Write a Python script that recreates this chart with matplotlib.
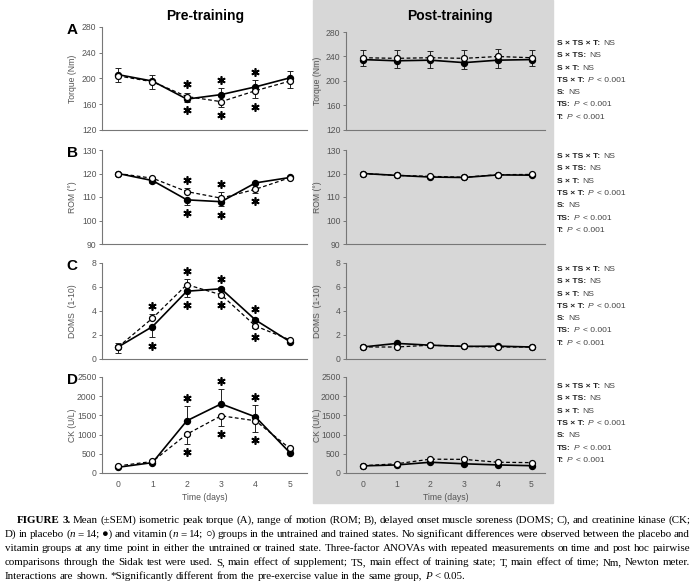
import re
import matplotlib
matplotlib.use('Agg')
import matplotlib.pyplot as plt
import matplotlib.transforms as mtransforms
from matplotlib import font_manager
from matplotlib.patches import Rectangle

W, H = 694, 587

days = [0, 1, 2, 3, 4, 5]

# sign of an error value = direction of the one-sided SEM bar (+ up, - down)
# Pre-training (untrained)
pre_torque_pla = [206, 196, 168, 175, 187, 201]
pre_torque_pla_err = [10, 10, -4, 10, 10, 11]
pre_torque_vit = [204, 195, 172, 164, 181, 196]
pre_torque_vit_err = [-10, -11, 6, -8, -12, -10]

pre_rom_pla = [120, 117, 108.8, 108, 116, 118.3]
pre_rom_pla_err = [0, -1, -2, -2, 0, 0]
pre_rom_vit = [120, 118, 112.3, 109.5, 113.3, 118.2]
pre_rom_vit_err = [0, 0, 1.5, 2.5, -1.5, 0]

pre_doms_pla = [1.0, 2.7, 5.65, 5.85, 3.25, 1.45]
pre_doms_pla_err = [-0.5, -0.9, -0.45, 0.15, 0.2, 0.1]
pre_doms_vit = [1.0, 3.4, 6.2, 5.35, 2.75, 1.6]
pre_doms_vit_err = [0.3, 0.35, 0.45, -0.15, -0.2, -0.1]

pre_ck_pla = [150, 270, 1360, 1800, 1460, 530]
pre_ck_pla_err = [30, 30, 380, 380, 310, 40]
pre_ck_vit = [185, 300, 1010, 1490, 1360, 640]
pre_ck_vit_err = [-30, -30, -250, -270, -290, -40]

# Post-training (trained)
post_torque_pla = [235, 233, 234, 230, 234, 235]
post_torque_pla_err = [-11, -12, -13, -11, -12, -11]
post_torque_vit = [238, 237, 238, 237, 240, 238]
post_torque_vit_err = [13, 13, 11, 14, 13, 13]

post_rom_pla = [120, 119.2, 118.5, 118.3, 119.4, 119.3]
post_rom_pla_err = [0, 0, 0, 0, 0, 0]
post_rom_vit = [120, 119.2, 118.8, 118.4, 119.5, 119.6]
post_rom_vit_err = [0, 0, 0, 0, 0, 0]

post_doms_pla = [1.0, 1.3, 1.15, 1.05, 1.07, 1.0]
post_doms_pla_err = [0, 0, 0, 0, 0, 0]
post_doms_vit = [1.0, 1.0, 1.15, 1.05, 1.0, 1.0]
post_doms_vit_err = [0, 0, 0, 0, 0, 0]

post_ck_pla = [185, 210, 280, 240, 210, 190]
post_ck_pla_err = [0, 0, 0, 0, 0, 0]
post_ck_vit = [190, 240, 360, 355, 280, 270]
post_ck_vit_err = [0, 0, 0, 0, 0, 0]

# days marked with * (pre-training only)
stars_above = [[2, 3, 4], [2, 3], [1, 2, 3, 4], [2, 3, 4]]
stars_below = [[2, 3, 4], [2, 3, 4], [1, 2, 3, 4], [2, 3, 4]]

panel_letters = ['A', 'B', 'C', 'D']
y_labels = ['Torque (Nm)', 'ROM (°)', 'DOMS  (1-10)', 'CK (U/L)']
y_limits = [(120, 280), (90, 130), (0, 8), (0, 2500)]
y_ticks = [[120, 160, 200, 240, 280], [90, 100, 110, 120, 130],
           [0, 2, 4, 6, 8], [0, 500, 1000, 1500, 2000, 2500]]

stat_keys = ['S × TS × T:', 'S × TS:', 'S × T:', 'TS × T:', 'S:', 'TS:', 'T:']
stat_vals = ['NS', 'NS', 'NS', 'P', 'NS', 'P', 'P']

caption_lines = [
    '<b>FIGURE 3.</b> Mean (±SEM) isometric peak torque (A), range of motion (ROM; B), '
    'delayed onset muscle soreness (DOMS; C), and creatinine kinase (CK;',
    'D) in placebo (<i>n</i> = 14; ●) and vitamin (<i>n</i> = 14; ○) groups in the untrained '
    'and trained states. No significant differences were observed between the placebo and',
    'vitamin groups at any time point in either the untrained or trained state. Three-factor '
    'ANOVAs with repeated measurements on time and post hoc pairwise',
    'comparisons through the Sidak test were used. S, main effect of supplement; TS, main '
    'effect of training state; T, main effect of time; Nm, Newton meter.',
    'Interactions are shown. *Significantly different from the pre-exercise value in the '
    'same group, <i>P</i> < 0.05.',
]

pre = [(pre_torque_pla, pre_torque_pla_err, pre_torque_vit, pre_torque_vit_err),
       (pre_rom_pla, pre_rom_pla_err, pre_rom_vit, pre_rom_vit_err),
       (pre_doms_pla, pre_doms_pla_err, pre_doms_vit, pre_doms_vit_err),
       (pre_ck_pla, pre_ck_pla_err, pre_ck_vit, pre_ck_vit_err)]
post = [(post_torque_pla, post_torque_pla_err, post_torque_vit, post_torque_vit_err),
        (post_rom_pla, post_rom_pla_err, post_rom_vit, post_rom_vit_err),
        (post_doms_pla, post_doms_pla_err, post_doms_vit, post_doms_vit_err),
        (post_ck_pla, post_ck_pla_err, post_ck_vit, post_ck_vit_err)]

installed = {f.name for f in font_manager.fontManager.ttflist}
SANS = 'Liberation Sans Narrow' if 'Liberation Sans Narrow' in installed else 'Liberation Sans'
SERIF = ['Liberation Serif', 'DejaVu Serif']
plt.rcParams['font.family'] = [SANS, 'DejaVu Sans']

fig = plt.figure(figsize=(W / 100, H / 100), dpi=100)

# gray background behind the post-training column
fig.patches.append(Rectangle((313 / W, 1 - 503 / H), 240 / W, 503 / H,
                             transform=fig.transFigure, color='#d7d7d7', zorder=-10))

# pixel boxes (top, bottom) of each row
rows_left = [(27, 130), (150, 244), (263, 359), (377, 473)]
rows_right = [(32, 130), (150, 244), (263, 359), (377, 473)]
GREY = '#555555'
TICK_FS = 6.2


def px_axes(x0, x1, y0, y1):
    return fig.add_axes([x0 / W, 1 - y1 / H, (x1 - x0) / W, (y1 - y0) / H])


def split_err(err):
    lo = [max(-e, 0) for e in err]
    hi = [max(e, 0) for e in err]
    return [lo, hi]


def draw_panel(ax, data, i, xlim, label_x):
    pla, pla_err, vit, vit_err = data
    ax.errorbar(days, pla, yerr=split_err(pla_err), fmt='none', ecolor='#222',
                elinewidth=0.7, capsize=2, capthick=0.7, zorder=2)
    ax.errorbar(days, vit, yerr=split_err(vit_err), fmt='none', ecolor='#222',
                elinewidth=0.7, capsize=2, capthick=0.7, zorder=2)
    ax.plot(days, pla, '-', color='k', lw=1.2, marker='o', ms=4.3,
            mfc='k', mec='k', zorder=3)
    ax.plot(days, vit, '--', color='k', lw=0.9, dashes=(3, 2), marker='o', ms=4.3,
            mfc='white', mec='k', mew=0.9, zorder=4)
    ax.set_xlim(*xlim)
    ax.set_ylim(*y_limits[i])
    ax.set_yticks(y_ticks[i])
    ax.set_xticks(days)
    ax.patch.set_alpha(0)
    for s in ['top', 'right']:
        ax.spines[s].set_visible(False)
    for s in ['left', 'bottom']:
        ax.spines[s].set_color('#777777')
        ax.spines[s].set_linewidth(0.8)
    ax.tick_params(axis='y', length=2.5, width=0.7, color='#777777',
                   labelsize=TICK_FS, labelcolor=GREY, pad=1.5)
    ax.tick_params(axis='x', length=0, labelsize=TICK_FS, labelcolor=GREY, pad=5,
                   labelbottom=(i == 3))
    ax.set_ylabel(y_labels[i], fontsize=TICK_FS, color=GREY)
    ax.yaxis.set_label_coords(label_x, 0.5)
    if i == 3:
        ax.set_xlabel('Time (days)', fontsize=TICK_FS, color=GREY, labelpad=3)


def add_stars(ax, data, above, below):
    pla, pla_err, vit, vit_err = data
    up = mtransforms.offset_copy(ax.transData, fig=fig, y=6, units='points')
    down = mtransforms.offset_copy(ax.transData, fig=fig, y=-6, units='points')
    for d in above:
        top = max(pla[d] + max(pla_err[d], 0), vit[d] + max(vit_err[d], 0))
        ax.plot(d, top, marker=(6, 2, 0), ms=6, mew=1.2, color='k',
                transform=up, clip_on=False)
    for d in below:
        bot = min(pla[d] - max(-pla_err[d], 0), vit[d] - max(-vit_err[d], 0))
        ax.plot(d, bot, marker=(6, 2, 0), ms=6, mew=1.2, color='k',
                transform=down, clip_on=False)


for i in range(4):
    ax = px_axes(102, 307, *rows_left[i])
    draw_panel(ax, pre[i], i, (-0.47, 5.5), -0.12)
    add_stars(ax, pre[i], stars_above[i], stars_below[i])
    fig.text(72 / W, 1 - (rows_left[i][0] + 3) / H, panel_letters[i],
             fontsize=11, fontweight='bold', ha='center', va='center',
             family='Liberation Sans')

    ax = px_axes(346, 545, *rows_right[i])
    draw_panel(ax, post[i], i, (-0.5, 5.4), -0.12)

fig.text(205 / W, 1 - 16 / H, 'Pre-training', ha='center', va='center',
         fontsize=10, fontweight='bold')
fig.text(450 / W, 1 - 16 / H, 'Post-training', ha='center', va='center',
         fontsize=10, fontweight='bold')

# statistics blocks next to each post-training panel
STAT_FS = 6.1
stat_tops = [45, 158, 271, 388]
for top in stat_tops:
    for k, (key, val) in enumerate(zip(stat_keys, stat_vals)):
        y = 1 - (top + k * 12.3) / H
        t = fig.text(557 / W, y, key, fontsize=STAT_FS, fontweight='bold',
                     color='#222', va='baseline')
        if val == 'NS':
            fig.text(0, 0, '', fontsize=STAT_FS)
            plt.annotate('NS', xy=(1, 0), xycoords=t, xytext=(2, 0),
                         textcoords='offset points', fontsize=STAT_FS,
                         color='#444', va='bottom')
        else:
            a = plt.annotate('P', xy=(1, 0), xycoords=t, xytext=(2, 0),
                             textcoords='offset points', fontsize=STAT_FS,
                             color='#444', va='bottom', fontstyle='italic')
            plt.annotate('< 0.001', xy=(1, 0), xycoords=a, xytext=(2.5, 0),
                         textcoords='offset points', fontsize=STAT_FS,
                         color='#444', va='bottom')


def parse_words(line):
    words = [[]]
    for chunk in re.split(r'(<[bi]>.*?</[bi]>)', line):
        if not chunk:
            continue
        m = re.match(r'<([bi])>(.*)</[bi]>', chunk)
        style = m.group(1) if m else 'n'
        text = m.group(2) if m else chunk
        for k, p in enumerate(text.split(' ')):
            if k > 0:
                words.append([])
            if p:
                words[-1].append((p, style))
    return [w for w in words if w]


renderer = fig.canvas.get_renderer()
cap_size = 7.9
cap_y = [523, 537, 551, 565, 579]
for i, line in enumerate(caption_lines):
    words = parse_words(line)
    x0 = 17 if i == 0 else 5
    y = 1 - cap_y[i] / H
    placed = []
    total = 0
    for w in words:
        pieces = []
        for p, st in w:
            t = fig.text(0, y, p, fontsize=cap_size, family=SERIF, va='baseline',
                         fontweight='bold' if st == 'b' else 'normal',
                         fontstyle='italic' if st == 'i' else 'normal')
            wd = t.get_window_extent(renderer).width
            pieces.append((t, wd))
            total += wd
        placed.append(pieces)
    if i < len(caption_lines) - 1:
        gap = (690 - x0 - total) / (len(words) - 1)
    else:
        gap = cap_size * 0.25 * 100 / 72
    x = x0
    for pieces in placed:
        for t, wd in pieces:
            t.set_x(x / W)
            x += wd
        x += gap

fig.savefig('out.png', dpi=100)
